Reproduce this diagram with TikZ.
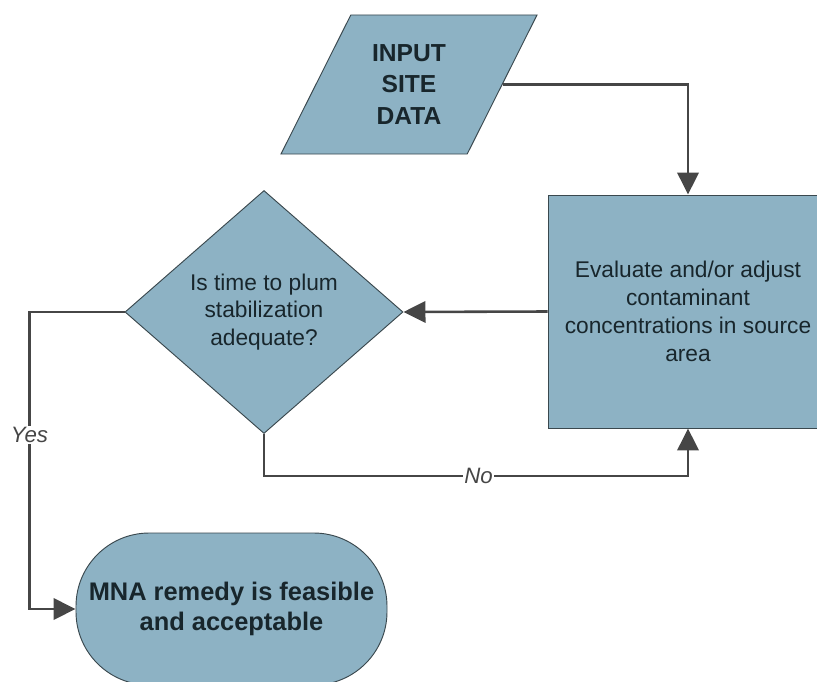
\documentclass[tikz,border=0pt]{standalone}
\usepackage{fontspec}
\setmainfont{Liberation Sans}
\usetikzlibrary{positioning, arrows.meta, shapes.geometric}
\definecolor{boxfill}{RGB}{141,178,196}
\definecolor{boxline}{RGB}{58,72,78}
\definecolor{lineclr}{RGB}{70,70,70}
\definecolor{txtclr}{RGB}{24,38,44}

\begin{document}
\begin{tikzpicture}[x=0.03cm, y=-0.03cm,
    box/.style={draw=boxline, fill=boxfill, line width=0.8pt, text=txtclr, align=center, inner sep=0pt},
    conn/.style={draw=lineclr, line width=2.2pt, -{Triangle[length=0.66cm, width=0.64cm]}},
    lbl/.style={fill=white, inner sep=1pt, text=lineclr, font=\itshape\fontsize{19}{23}\selectfont}]
  \useasboundingbox (0,0) rectangle (817,682);
  \node[box, trapezium, trapezium left angle=48.8, trapezium right angle=131.2, trapezium stretches body,
        minimum width=7.68cm, minimum height=4.17cm, font=\bfseries\fontsize{21}{26.8}\selectfont]
        (input) at (409,84.5) {INPUT\\SITE\\DATA};
  \node[box, minimum width=8.4cm, minimum height=6.99cm, font=\fontsize{19.4}{23.8}\selectfont]
        (eval) at (688,311.5) {Evaluate and/or adjust\\contaminant\\concentrations in source\\area};
  \node[box, diamond, minimum width=8.34cm, minimum height=7.29cm, font=\fontsize{19.4}{23.3}\selectfont]
        (dec) at (264,312) {Is time to plum\\stabilization\\adequate?};
  \node[box, rounded corners=2.2cm, minimum width=9.33cm, minimum height=4.56cm, font=\bfseries\fontsize{21.7}{25.5}\selectfont]
        (mna) at (231.5,609) {MNA remedy is feasible\\and acceptable};
  \draw[conn] (input.east) -| (eval.north);
  \draw[conn] (eval.west) -- (dec.east);
  \draw[conn] (dec.south) -- ++(0,42) -| node[lbl, pos=0.253] {No} (eval.south);
  \draw[conn] (dec.west) -- ++(-95,0) |- node[lbl, pos=0.207] {Yes} (mna.west);
\end{tikzpicture}
\end{document}
